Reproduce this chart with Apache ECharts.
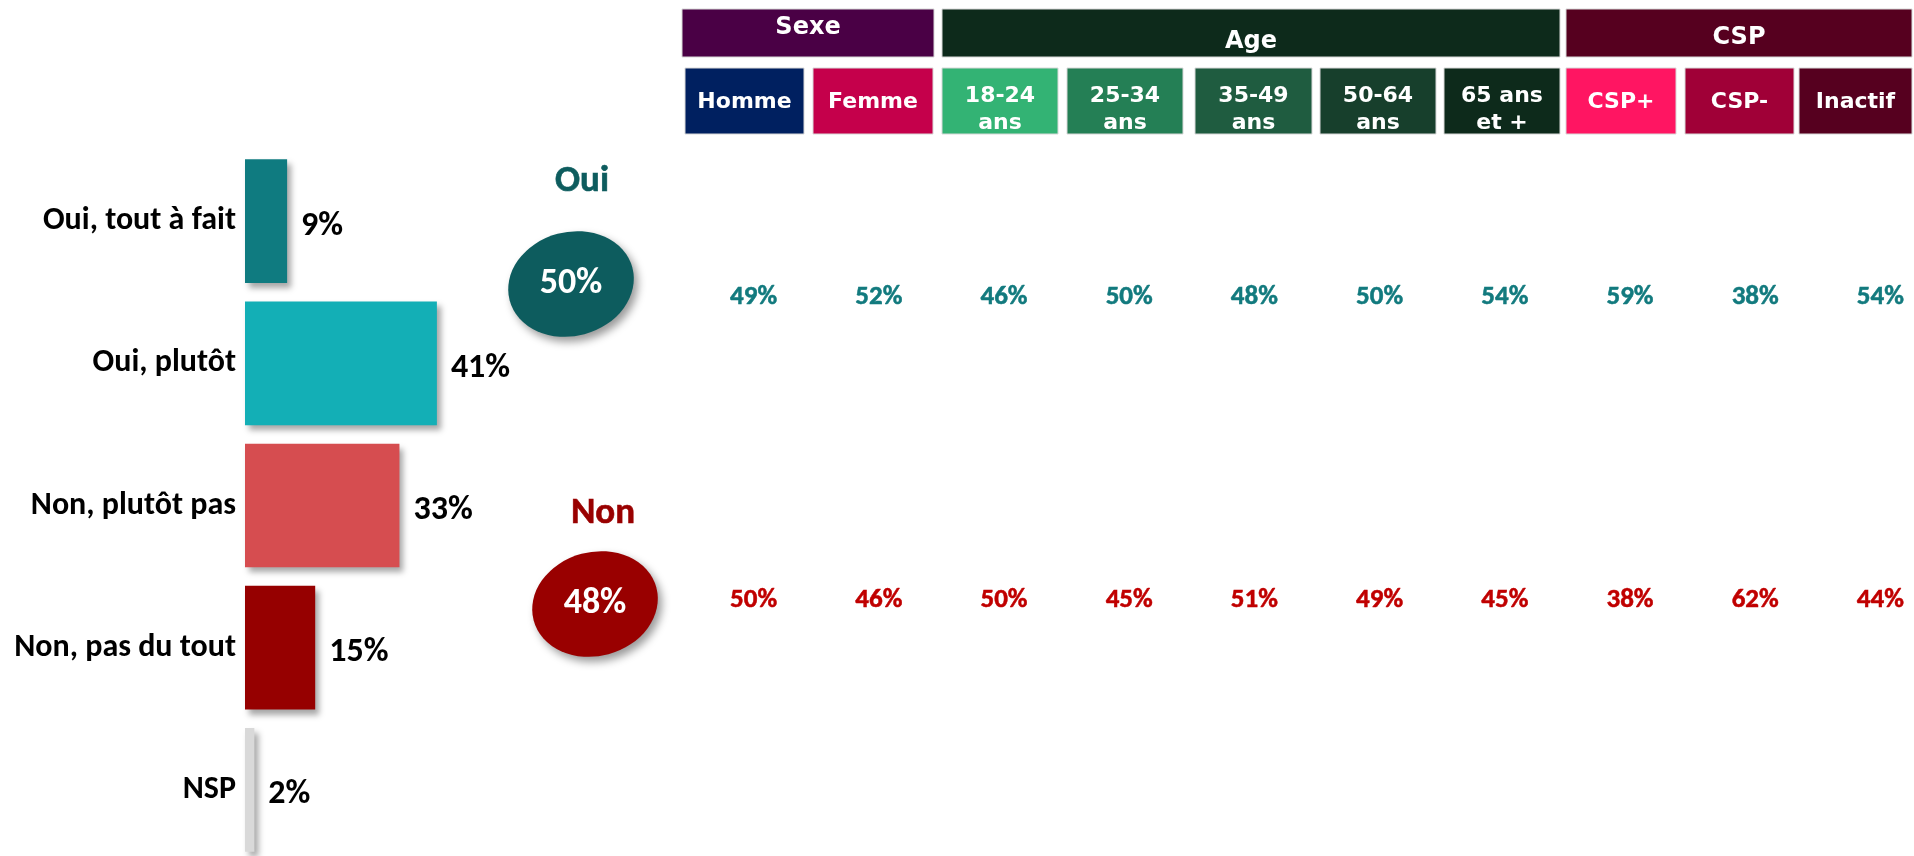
<!DOCTYPE html>
<html>
<head>
<meta charset="utf-8">
<script src="https://cdn.jsdelivr.net/npm/echarts@6/dist/echarts.min.js"></script>
<style>
html, body { margin: 0; padding: 0; background: #fff; }
#chart { width: 1914px; height: 856px; }
</style>
</head>
<body>
<div id="chart"></div>
<script>
// reponses globales
var reponses = ['Oui, tout à fait', 'Oui, plutôt', 'Non, plutôt pas', 'Non, pas du tout', 'NSP'];
var scores = [9, 41, 33, 15, 2];

// totaux oui / non
var totaux = ['Oui', 'Non'];
var totalValeurs = [50, 48];

// tableau par segment
var groupes = ['Sexe', 'Age', 'CSP'];
var segments = ['Homme', 'Femme', '18-24\nans', '25-34\nans', '35-49\nans', '50-64\nans', '65 ans\net +', 'CSP+', 'CSP-', 'Inactif'];
var ouiSegments = [49, 52, 46, 50, 48, 50, 54, 59, 38, 54];
var nonSegments = [50, 46, 50, 45, 51, 49, 45, 38, 62, 44];

var couleursReponses = ['#0f7b80', '#13afb6', '#d64d50', '#960000', '#d9d9d9'];
var couleursTotaux = ['#0d5c5e', '#990000'];
var couleursGroupes = ['#4a0045', '#0d2a1b', '#56001f'];
var couleursSegments = ['#002060', '#c5004b', '#33b374', '#247f55', '#1f5c40', '#173f2c', '#0d2a1b', '#ff1562', '#a00037', '#56001f'];

var police = 'Carlito, "Liberation Sans Narrow", "Open Sans", sans-serif';
var policeEntete = '"DejaVu Sans", Verdana, sans-serif';

// entete (boites)
var boitesGroupes = [[682, 934, 0], [942, 1560, 14], [1566, 1912, 10]];
var boitesSegments = [[685, 804], [813, 933], [942, 1058], [1067, 1183], [1195, 1312], [1320, 1436], [1444, 1560], [1566, 1676], [1685, 1794], [1799, 1912]];

var entete = [];
groupes.forEach(function (g, i) {
    var b = boitesGroupes[i];
    entete.push({
        type: 'rect',
        shape: { x: b[0], y: 9, width: b[1] - b[0], height: 48 },
        style: { fill: couleursGroupes[i], stroke: '#d8d8d8', lineWidth: 1 },
        textContent: { style: { text: g, fill: '#fff', font: 'bold 24px ' + policeEntete } },
        textConfig: { position: 'inside', offset: [0, b[2] - 5] }
    });
});
segments.forEach(function (s, i) {
    var b = boitesSegments[i];
    entete.push({
        type: 'rect',
        shape: { x: b[0], y: 68, width: b[1] - b[0], height: 66 },
        style: { fill: couleursSegments[i], stroke: '#d8d8d8', lineWidth: 1 },
        textContent: { style: { text: s, fill: '#fff', font: 'bold 22px ' + policeEntete, lineHeight: 27, align: 'center' } },
        textConfig: { position: 'inside', offset: [0, s.indexOf('\n') > 0 ? 9 : 1] }
    });
});

var myChart = echarts.init(document.getElementById('chart'));

var option = {
    animation: false,
    graphic: entete,
    grid: [
        { left: 245, top: 150, width: 468, height: 711, outerBoundsMode: 'none' },
        { left: 520, top: 133, width: 128, height: 628, outerBoundsMode: 'none' },
        { left: 691, top: 133, width: 1252, height: 628, outerBoundsMode: 'none' }
    ],
    xAxis: [
        { gridIndex: 0, type: 'value', min: 0, max: 100, show: false },
        { gridIndex: 1, type: 'category', data: ['Total'], show: false },
        { gridIndex: 2, type: 'category', data: segments, show: false }
    ],
    yAxis: [
        {
            gridIndex: 0, type: 'category', data: reponses, inverse: true,
            axisLine: { show: false }, axisTick: { show: false },
            axisLabel: { margin: 9, padding: [10, 0, 0, 0], color: '#000', fontFamily: police, fontWeight: 'bold', fontSize: 32 }
        },
        { gridIndex: 1, type: 'category', data: totaux, inverse: true, show: false },
        { gridIndex: 2, type: 'category', data: totaux, inverse: true, show: false }
    ],
    series: [
        {
            type: 'bar',
            xAxisIndex: 0, yAxisIndex: 0,
            barCategoryGap: '13%',
            data: scores.map(function (v, i) {
                return { value: v, itemStyle: { color: couleursReponses[i] } };
            }),
            itemStyle: { shadowColor: 'rgba(0,0,0,0.35)', shadowBlur: 6, shadowOffsetX: 4, shadowOffsetY: 5 },
            label: {
                show: true, position: 'right', distance: 14, offset: [0, 5],
                formatter: '{c}%',
                color: '#000', fontFamily: police, fontWeight: 'bold', fontSize: 34
            }
        },
        {
            // ellipses des totaux
            type: 'scatter',
            xAxisIndex: 1, yAxisIndex: 1,
            symbol: 'circle', symbolSize: [127, 104], symbolRotate: 15,
            data: totaux.map(function (t, i) {
                return {
                    value: ['Total', t, totalValeurs[i]],
                    symbolOffset: [i === 0 ? -13 : 11, i === 0 ? -6 : 0],
                    itemStyle: { color: couleursTotaux[i] }
                };
            }),
            itemStyle: { opacity: 1, shadowColor: 'rgba(0,0,0,0.4)', shadowBlur: 8, shadowOffsetX: 4, shadowOffsetY: 5 },
            label: {
                show: true, position: 'inside',
                formatter: function (p) { return p.value[2] + '%'; },
                color: '#fff', textBorderWidth: 0, fontFamily: police, fontWeight: 'bold', fontSize: 36
            }
        },
        {
            // titres Oui / Non
            type: 'scatter',
            xAxisIndex: 1, yAxisIndex: 1,
            symbolSize: 1,
            itemStyle: { color: 'rgba(0,0,0,0)', opacity: 1 },
            data: totaux.map(function (t, i) {
                return {
                    value: ['Total', t],
                    label: {
                        color: couleursTotaux[i], textBorderColor: couleursTotaux[i],
                        offset: [i === 0 ? -2 : 19, i === 0 ? -108 : -90]
                    }
                };
            }),
            label: {
                show: true, position: 'inside',
                formatter: function (p) { return p.value[1]; },
                textBorderWidth: 0.6, fontFamily: police, fontWeight: 'bold', fontSize: 37
            }
        },
        {
            type: 'scatter',
            xAxisIndex: 2, yAxisIndex: 2,
            symbolSize: 1,
            itemStyle: { color: 'rgba(0,0,0,0)', opacity: 1 },
            data: segments.map(function (s, i) { return [s, 'Oui', ouiSegments[i]]; }),
            label: {
                show: true, position: 'inside', offset: [0, 7],
                formatter: function (p) { return p.value[2] + '%'; },
                color: '#127a7e', textBorderColor: '#127a7e', textBorderWidth: 0.5,
                fontFamily: police, fontWeight: 'bold', fontSize: 27
            }
        },
        {
            type: 'scatter',
            xAxisIndex: 2, yAxisIndex: 2,
            symbolSize: 1,
            itemStyle: { color: 'rgba(0,0,0,0)', opacity: 1 },
            data: segments.map(function (s, i) { return [s, 'Non', nonSegments[i]]; }),
            label: {
                show: true, position: 'inside', offset: [0, -4],
                formatter: function (p) { return p.value[2] + '%'; },
                color: '#c00000', textBorderColor: '#c00000', textBorderWidth: 0.5,
                fontFamily: police, fontWeight: 'bold', fontSize: 27
            }
        }
    ]
};

myChart.setOption(option);
</script>
</body>
</html>
